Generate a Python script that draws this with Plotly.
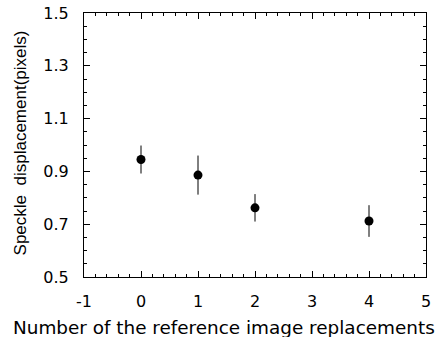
import plotly.graph_objects as go

replacements = [0, 1, 2, 4]
displacement = [0.945, 0.886, 0.762, 0.712]
error = [0.053, 0.074, 0.052, 0.060]

x_ticks = [-1, 0, 1, 2, 3, 4, 5]
y_ticks = [0.5, 0.7, 0.9, 1.1, 1.3, 1.5]

x_title = "Number of the reference image replacements"
y_title = "Speckle  displacement(pixels)"

WIDE = "DejaVu Sans, Liberation Sans, Arial"
NARROW = "Liberation Sans, Arial"

fig = go.Figure()
fig.add_trace(go.Scatter(
    x=replacements, y=displacement, mode="markers",
    marker=dict(color="black", size=9),
    error_y=dict(type="data", array=error, color="black", thickness=1, width=0),
    showlegend=False,
))

axis_common = dict(
    showline=True, linecolor="black", linewidth=1, mirror="allticks",
    ticks="inside", ticklen=6, tickcolor="black", tickwidth=1,
    showgrid=False, zeroline=False, automargin=False,
    ticklabeloverflow="allow",
    tickfont=dict(family=WIDE, size=16, color="black"),
)

fig.update_xaxes(
    range=[-1, 5], tickvals=x_ticks, ticktext=[str(v) for v in x_ticks],
    minor=dict(dtick=0.2, ticks="inside", ticklen=3, tickcolor="black"),
    ticklabelstandoff=10,
    **axis_common,
)
fig.update_yaxes(
    range=[0.5, 1.5], tickvals=y_ticks, ticktext=[f"{v:.1f}" for v in y_ticks],
    minor=dict(dtick=0.05, ticks="inside", ticklen=3, tickcolor="black"),
    ticklabelstandoff=11,
    **axis_common,
)

fig.add_annotation(
    text=x_title, xref="paper", yref="paper", x=0.408, y=-0.19,
    xanchor="center", yanchor="middle", showarrow=False,
    font=dict(family=WIDE, size=18.4, color="black"),
)
fig.add_annotation(
    text=y_title, xref="paper", yref="paper", x=-0.187, y=0.506,
    xanchor="center", yanchor="middle", showarrow=False, textangle=-90,
    font=dict(family=NARROW, size=17, color="black"),
)

fig.update_layout(
    width=440, height=337,
    margin=dict(l=84, r=14, t=13, b=60),
    paper_bgcolor="white", plot_bgcolor="white",
)

# remove the browser's default 8px body margin so the figure fills the window
fig.write_html("out.html", config={"displayModeBar": False},
               post_script="document.body.style.margin='0';")
